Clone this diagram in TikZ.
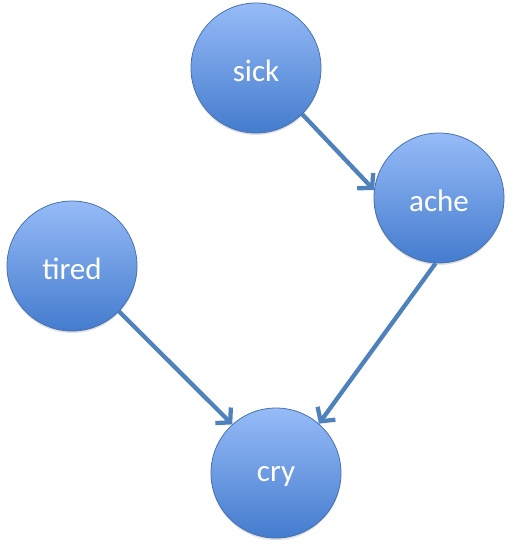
\documentclass[tikz,border=0pt]{standalone}
\usepackage{fontspec}
\setmainfont{Carlito}
\usetikzlibrary{arrows.meta,shadows}
\definecolor{topblue}{RGB}{150,187,247}
\definecolor{botblue}{RGB}{68,124,206}
\definecolor{edgeblue}{RGB}{70,112,178}
\definecolor{arrowblue}{RGB}{79,129,189}
\tikzset{
  bubble/.style={circle, minimum size=130pt, inner sep=0pt, draw=edgeblue, line width=0.8pt,
    top color=topblue, bottom color=botblue, text=white,
    drop shadow={shadow xshift=0pt, shadow yshift=-2pt, opacity=0.25}},
  lbl/.style={text=white, font=\fontsize{31}{34}\selectfont, inner sep=0pt},
  link/.style={draw=arrowblue, line width=4.3pt, -{Straight Barb[length=10pt,width=22pt,line width=4.3pt]}}
}
\begin{document}
\begin{tikzpicture}[x=1pt,y=-1pt]
\useasboundingbox (0,0) rectangle (512,548);
\node[bubble] (sick) at (256,68) {};
\node[bubble] (ache) at (439,198) {};
\node[bubble] (tired) at (72,266) {};
\node[bubble] (cry) at (276,473) {};
\node[lbl] (tsick) at (256,71) {sick};
\node[lbl] (tache) at (439,201) {ache};
\node[lbl] (ttired) at (72,269) {tired};
\node[lbl] (tcry) at (276,476) {cry};
\draw[link] (sick.-45) -- (ache.173);
\draw[link] (tired.-44) -- (cry.132);
\draw[link] (ache.-93) -- (cry.49);
\end{tikzpicture}
\end{document}
